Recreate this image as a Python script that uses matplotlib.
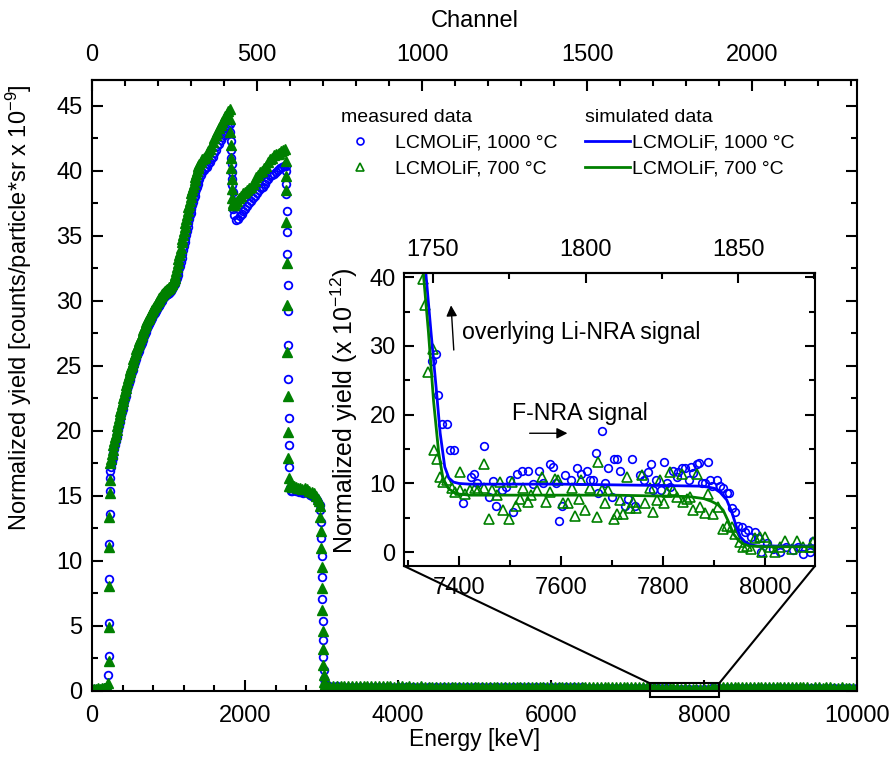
import numpy as np
import matplotlib
matplotlib.use("Agg")
import matplotlib.pyplot as plt
from matplotlib.lines import Line2D
from matplotlib.patches import Rectangle, ConnectionPatch
from matplotlib.ticker import MultipleLocator, FixedLocator

plt.rcParams['font.family'] = ['Liberation Sans', 'DejaVu Sans']
plt.rcParams['mathtext.fontset'] = 'custom'
plt.rcParams['mathtext.rm'] = 'Liberation Sans'
plt.rcParams['mathtext.default'] = 'regular'

BLUE = '#0000ff'
GREEN = '#008000'

# ---------------- main spectrum (x 10^-9), energies in keV ----------------
pre_E = [0, 25, 50, 75, 100, 125, 150, 175, 200]
pre_700 = [0.15, 0.18, 0.15, 0.2, 0.18, 0.2, 0.22, 0.25, 0.3]
pre_1000 = [0.12, 0.15, 0.14, 0.16, 0.15, 0.18, 0.2, 0.22, 0.28]

edge1_E_700 = [213, 216, 219, 222, 225, 228, 231, 234]
edge1_700 = [0.6, 2.3, 4.9, 8.1, 11.1, 13.4, 15.2, 16.2]
edge1_E_1000 = [214, 217, 220, 223, 226, 229, 232, 235]
edge1_1000 = [1.2, 2.7, 5.2, 8.6, 11.3, 13.6, 15.4, 16.4]

body1_E = np.arange(240, 1081, 10)
body1_700 = [17.5, 17.85, 18.2, 18.55, 18.9, 19.2, 19.5, 19.8, 20.1, 20.4,
             20.7, 21.0, 21.3, 21.55, 21.8, 22.05, 22.3, 22.55, 22.8, 23.05,
             23.3, 23.55, 23.8, 24.05, 24.3, 24.5, 24.7, 24.9, 25.1, 25.3,
             25.5, 25.7, 25.9, 26.1, 26.3, 26.45, 26.6, 26.75, 26.9, 27.05,
             27.2, 27.4, 27.6, 27.75, 27.9, 28.05, 28.2, 28.35, 28.5, 28.6,
             28.7, 28.8, 28.9, 29.05, 29.2, 29.3, 29.4, 29.5, 29.6, 29.7,
             29.8, 29.9, 30.0, 30.1, 30.2, 30.3, 30.4, 30.45, 30.5, 30.6,
             30.7, 30.75, 30.8, 30.85, 30.9, 30.95, 31.0, 31.05, 31.1, 31.2,
             31.3, 31.4, 31.5, 31.65, 31.8]
body1_1000 = [16.9, 17.25, 17.6, 17.95, 18.3, 18.6, 18.9, 19.2, 19.5, 19.8,
              20.1, 20.4, 20.7, 20.95, 21.2, 21.45, 21.7, 21.95, 22.2, 22.45,
              22.7, 22.95, 23.2, 23.45, 23.7, 23.9, 24.1, 24.3, 24.5, 24.7,
              24.9, 25.1, 25.3, 25.5, 25.7, 25.85, 26.0, 26.15, 26.3, 26.45,
              26.6, 26.8, 27.0, 27.15, 27.3, 27.45, 27.6, 27.75, 27.9, 28.05,
              28.2, 28.3, 28.4, 28.55, 28.7, 28.8, 28.9, 29.0, 29.1, 29.2,
              29.3, 29.4, 29.5, 29.6, 29.7, 29.8, 29.9, 30.0, 30.1, 30.2,
              30.3, 30.35, 30.4, 30.45, 30.5, 30.55, 30.6, 30.65, 30.7, 30.8,
              30.9, 31.0, 31.1, 31.2, 31.3]

steep_E = np.arange(1090, 1401, 10)
steep_700 = [32.0, 32.3, 32.6, 32.9, 33.2, 33.5, 33.8, 34.1, 34.5, 34.8,
             35.1, 35.4, 35.7, 36.0, 36.3, 36.6, 36.9, 37.2, 37.4, 37.7,
             38.0, 38.3, 38.5, 38.8, 39.0, 39.3, 39.5, 39.8, 40.0, 40.2,
             40.4, 40.5]
steep_1000 = [31.4, 31.6, 31.8, 32.0, 32.2, 32.5, 32.7, 33.0, 33.3, 33.6,
              33.9, 34.2, 34.5, 34.8, 35.1, 35.4, 35.7, 36.0, 36.3, 36.6,
              36.8, 37.1, 37.4, 37.6, 37.9, 38.1, 38.4, 38.6, 38.8, 39.0,
              39.2, 39.4]

body2_E = np.arange(1420, 1801, 20)
body2_700 = [40.7, 40.9, 41.0, 41.1, 41.3, 41.5, 41.7, 41.9, 42.2, 42.5,
             42.8, 43.0, 43.3, 43.5, 43.8, 44.0, 44.2, 44.4, 44.6, 44.8]
body2_1000 = [39.7, 39.9, 40.1, 40.2, 40.3, 40.5, 40.7, 40.9, 41.1, 41.4,
              41.6, 41.9, 42.1, 42.4, 42.6, 42.8, 43.0, 43.2, 43.4, 43.6]

drop_E_700 = [1805, 1809, 1813, 1817, 1821, 1825, 1829, 1833, 1837, 1843]
drop_700 = [44.0, 43.0, 42.0, 41.0, 40.2, 39.4, 38.6, 37.9, 37.5, 37.4]
drop_E_1000 = [1808, 1812, 1816, 1820, 1824, 1828, 1832, 1836, 1840, 1844, 1848]
drop_1000 = [43.0, 42.3, 41.6, 41.0, 40.5, 39.9, 39.4, 38.9, 38.4, 37.7, 37.1]

hump_E_700 = np.arange(1850, 2526, 25)
hump_700 = [37.4, 37.5, 37.7, 37.9, 38.1, 38.3, 38.4, 38.5, 38.7, 38.8,
            39.0, 39.2, 39.5, 39.7, 39.9, 40.0, 40.2, 40.4, 40.7, 40.9,
            41.0, 41.2, 41.3, 41.3, 41.4, 41.5, 41.6, 41.7]
hump_E_1000 = np.arange(1855, 2531, 25)
hump_1000 = [36.6, 36.2, 36.3, 36.5, 36.7, 36.9, 37.1, 37.3, 37.5, 37.7,
             37.9, 38.1, 38.3, 38.5, 38.7, 38.8, 39.0, 39.2, 39.4, 39.6,
             39.7, 39.8, 39.9, 40.1, 40.2, 40.3, 40.4, 40.4]

edge2_E_700 = np.arange(2530, 2575, 4)
edge2_700 = [40.8, 39.6, 38.5, 36.1, 32.9, 29.7, 26.1, 22.7, 19.9, 17.9, 16.4, 15.8]
edge2_E_1000 = np.arange(2532, 2585, 4)
edge2_1000 = [40.0, 39.0, 38.2, 36.9, 35.3, 33.6, 31.2, 29.2, 26.6, 24.0,
              21.0, 18.9, 17.2, 15.6]

plat_E_700 = [2585, 2610, 2635, 2660, 2690, 2720, 2750, 2780, 2810, 2840,
              2870, 2900, 2930, 2950, 2965]
plat_700 = [15.8, 15.7, 15.8, 15.7, 15.6, 15.6, 15.5, 15.6, 15.5, 15.4,
            15.3, 15.2, 15.0, 14.8, 14.6]
plat_E_1000 = [2595, 2620, 2645, 2670, 2700, 2730, 2760, 2790, 2820, 2850,
               2880, 2910, 2940, 2960, 2975]
plat_1000 = [15.4, 15.4, 15.5, 15.4, 15.3, 15.3, 15.2, 15.3, 15.2, 15.1,
             15.0, 14.9, 14.7, 14.5, 14.3]

edge3_E_700 = np.arange(2980, 3041, 5)
edge3_700 = [14.2, 13.4, 12.3, 11.0, 9.5, 7.9, 6.2, 4.6, 3.2, 2.0, 1.2, 0.7, 0.5]
edge3_E_1000 = np.arange(2985, 3046, 5)
edge3_1000 = [13.9, 13.0, 11.8, 10.4, 8.8, 7.1, 5.4, 3.9, 2.6, 1.6, 0.9, 0.6, 0.4]

tail_E_700 = np.arange(3050, 10001, 50)
tail_700 = [0.45, 0.42, 0.40, 0.38, 0.38, 0.37, 0.37, 0.36, 0.36, 0.36,
            0.36, 0.35, 0.36, 0.35, 0.35, 0.36, 0.35, 0.35, 0.34, 0.35,
            0.35, 0.34, 0.35, 0.34, 0.34, 0.35, 0.34, 0.34, 0.33, 0.34,
            0.34, 0.33, 0.34, 0.33, 0.33, 0.34, 0.33, 0.33, 0.32, 0.33,
            0.33, 0.32, 0.33, 0.32, 0.32, 0.33, 0.32, 0.32, 0.31, 0.32,
            0.32, 0.31, 0.32, 0.31, 0.31, 0.32, 0.31, 0.31, 0.30, 0.31,
            0.31, 0.30, 0.31, 0.30, 0.30, 0.31, 0.30, 0.30, 0.29, 0.30,
            0.29, 0.30, 0.29, 0.29, 0.30, 0.29, 0.29, 0.28, 0.29, 0.28,
            0.28, 0.29, 0.28, 0.28, 0.27, 0.28, 0.27, 0.26, 0.25, 0.23,
            0.21, 0.20, 0.20, 0.19, 0.20, 0.19, 0.19, 0.18, 0.19, 0.18,
            0.19, 0.22, 0.25, 0.27, 0.28, 0.28, 0.29, 0.28, 0.28, 0.29,
            0.28, 0.28, 0.29, 0.28, 0.28, 0.28, 0.27, 0.28, 0.28, 0.27,
            0.28, 0.27, 0.27, 0.28, 0.27, 0.27, 0.27, 0.26, 0.27, 0.27,
            0.26, 0.27, 0.27, 0.26, 0.26, 0.27, 0.26, 0.26, 0.26, 0.26]
tail_E_1000 = np.arange(3100, 10001, 100)
tail_1000 = [0.38, 0.35, 0.34, 0.34, 0.33, 0.33, 0.33, 0.32, 0.32, 0.32,
             0.32, 0.31, 0.31, 0.31, 0.31, 0.30, 0.30, 0.30, 0.30, 0.30,
             0.29, 0.29, 0.29, 0.29, 0.28, 0.28, 0.28, 0.28, 0.28, 0.27,
             0.27, 0.27, 0.27, 0.27, 0.26, 0.26, 0.26, 0.26, 0.25, 0.25,
             0.25, 0.24, 0.24, 0.22, 0.20, 0.19, 0.19, 0.18, 0.18, 0.18,
             0.20, 0.24, 0.25, 0.25, 0.25, 0.25, 0.25, 0.24, 0.24, 0.24,
             0.24, 0.24, 0.24, 0.24, 0.23, 0.23, 0.23, 0.23, 0.23, 0.23]

E_700 = np.concatenate([pre_E, edge1_E_700, body1_E, steep_E, body2_E, drop_E_700,
                        hump_E_700, edge2_E_700, plat_E_700, edge3_E_700, tail_E_700])
Y_700 = np.concatenate([pre_700, edge1_700, body1_700, steep_700, body2_700, drop_700,
                        hump_700, edge2_700, plat_700, edge3_700, tail_700])
E_1000 = np.concatenate([pre_E, edge1_E_1000, body1_E, steep_E, body2_E, drop_E_1000,
                         hump_E_1000, edge2_E_1000, plat_E_1000, edge3_E_1000, tail_E_1000])
Y_1000 = np.concatenate([pre_1000, edge1_1000, body1_1000, steep_1000, body2_1000, drop_1000,
                         hump_1000, edge2_1000, plat_1000, edge3_1000, tail_1000])

# ---------------- inset (x 10^-12) ----------------
ins_E_1000 = [7346, 7355, 7359, 7366, 7376, 7382, 7390, 7407, 7423, 7429,
              7436, 7448, 7459, 7466, 7472, 7484, 7493, 7500, 7505, 7513,
              7523, 7536, 7546, 7556, 7565, 7578, 7584, 7591, 7597, 7601,
              7608, 7619, 7632, 7640, 7650, 7656, 7663, 7668, 7673, 7680,
              7686, 7693, 7699, 7703, 7709, 7716, 7725, 7732, 7739, 7745,
              7755, 7763, 7771, 7776, 7781, 7786, 7797, 7801, 7807, 7814,
              7820, 7827, 7830, 7837, 7843, 7850, 7854, 7859, 7866, 7871,
              7876, 7882, 7888, 7892, 7897, 7905, 7912, 7918, 7925, 7929,
              7935, 7941, 7948, 7954, 7961, 7967, 7972, 7980, 7987, 7993,
              8003, 8016, 8029, 8042, 8055, 8065, 8075, 8088, 8095]
ins_Y_1000 = [27.8, 28.8, 22.8, 18.7, 18.7, 14.9, 14.9, 7.2, 11.0, 11.4,
              10.1, 15.4, 8.0, 10.3, 6.7, 9.0, 9.5, 10.5, 5.9, 11.4,
              11.8, 11.8, 9.9, 11.8, 10.0, 12.9, 12.4, 10.0, 4.6, 6.7,
              11.3, 10.5, 12.3, 11.4, 11.8, 10.5, 10.5, 14.5, 8.6, 17.7,
              10.1, 12.2, 8.0, 13.5, 13.5, 11.8, 6.7, 7.7, 13.5, 6.7,
              11.2, 10.5, 11.7, 12.9, 9.1, 10.5, 9.1, 13.1, 10.1, 9.5,
              11.8, 10.9, 11.7, 12.3, 12.2, 10.5, 12.4, 11.5, 12.8, 13.0,
              10.1, 10.1, 13.1, 10.5, 9.7, 10.5, 9.6, 9.4, 8.6, 8.6,
              6.4, 5.9, 3.8, 3.7, 3.0, 3.2, 2.2, 3.0, 2.0, 0.1,
              1.3, 0.5, 0.1, 0.8, 0.3, 0.8, -0.2, 0.1, 1.7]
ins_E_700 = [7329, 7333, 7340, 7348, 7350, 7357, 7363, 7369, 7376, 7386,
             7392, 7401, 7402, 7412, 7421, 7431, 7438, 7448, 7449, 7459,
             7464, 7474, 7480, 7487, 7497, 7503, 7512, 7519, 7526, 7536,
             7542, 7552, 7562, 7571, 7578, 7588, 7595, 7604, 7614, 7621,
             7627, 7636, 7640, 7647, 7657, 7670, 7673, 7680, 7686, 7693,
             7703, 7709, 7716, 7722, 7729, 7735, 7742, 7748, 7758, 7765,
             7774, 7781, 7788, 7794, 7801, 7807, 7814, 7820, 7827, 7837,
             7840, 7848, 7853, 7859, 7866, 7872, 7882, 7889, 7899, 7908,
             7918, 7925, 7935, 7941, 7950, 7957, 7965, 7972, 7980, 7990,
             7995, 8000, 8010, 8020, 8029, 8039, 8052, 8062, 8075, 8088, 8095]
ins_Y_700 = [39.8, 35.9, 26.2, 29.6, 14.8, 13.6, 11.0, 10.2, 10.5, 9.3,
             8.8, 11.7, 9.0, 8.5, 9.0, 9.4, 9.0, 12.8, 9.3, 4.9,
             9.0, 8.3, 10.2, 6.1, 4.9, 10.2, 6.7, 7.8, 9.4, 7.3,
             8.3, 9.1, 10.9, 7.3, 8.8, 10.7, 10.5, 7.1, 7.1, 9.4,
             5.2, 7.8, 10.5, 6.1, 9.4, 5.1, 13.1, 9.0, 7.1, 9.0,
             4.9, 5.6, 7.6, 5.6, 10.9, 6.4, 7.3, 6.4, 11.2, 7.1,
             9.3, 5.9, 7.6, 10.5, 7.1, 8.8, 11.7, 9.0, 8.0, 11.4,
             7.3, 7.8, 8.0, 6.1, 11.4, 6.6, 5.7, 8.5, 5.6, 6.6,
             3.4, 3.8, 3.7, 2.7, 1.5, 0.8, 0.9, 0.5, 2.0, 2.2,
             0.1, 2.2, 0.8, 0.1, 0.8, 1.7, 0.5, 1.7, 0.8, 0.8, 1.5]

sim_E_1000 = [7320, 7335, 7345, 7355, 7363, 7372, 7380, 7389, 7400, 7420,
              7500, 7600, 7700, 7800, 7880, 7900, 7912, 7925, 7935, 7944,
              7952, 7961, 7970, 7985, 8000, 8100]
sim_Y_1000 = [55, 40.5, 32, 24, 17.3, 12.4, 10.8, 10.2, 10.0, 9.9,
              9.9, 9.9, 9.8, 9.7, 9.6, 9.3, 8.7, 7.6, 5.8, 3.7,
              2.2, 1.5, 1.1, 0.9, 0.9, 0.9]
sim_E_700 = [7315, 7330, 7340, 7350, 7360, 7369, 7380, 7395, 7420, 7500,
             7700, 7850, 7880, 7895, 7908, 7918, 7928, 7938, 7948, 7957,
             7970, 8000, 8100]
sim_Y_700 = [55, 40.5, 32, 22, 14.5, 10.5, 9.2, 8.5, 8.3, 8.3,
             8.3, 8.1, 7.8, 7.4, 6.9, 6.1, 4.5, 2.7, 1.7, 1.2,
             0.9, 0.8, 0.8]

channel_ticks = [0, 500, 1000, 1500, 2000]
inset_channel_ticks = [1750, 1800, 1850]

# ---------------- figure ----------------
fig = plt.figure(figsize=(8.9, 7.59), dpi=100)
ax = fig.add_axes([0.1034, 0.0896, 0.8595, 0.805])

ax.plot(E_1000, Y_1000, ls='none', marker='o', ms=5.5, mfc='none', mec=BLUE, mew=1.3)
ax.plot(E_700, Y_700, ls='none', marker='^', ms=7, color=GREEN, mec=GREEN)

ax.set_xlim(0, 10000)
ax.set_ylim(0, 47)
ax.xaxis.set_major_locator(MultipleLocator(2000))
ax.xaxis.set_minor_locator(MultipleLocator(400))
ax.yaxis.set_major_locator(MultipleLocator(5))
ax.yaxis.set_minor_locator(MultipleLocator(2.5))
ax.tick_params(which='both', direction='in', top=False, right=True, width=1.5, labelsize=17)
ax.tick_params(which='major', length=8)
ax.tick_params(which='minor', length=4)
ax.tick_params(axis='x', pad=10)
ax.tick_params(axis='y', pad=7)
for s in ax.spines.values():
    s.set_linewidth(1.5)
ax.set_xlabel('Energy [keV]', fontsize=16.5, labelpad=1)
ax.set_ylabel('Normalized yield [counts/particle*sr x 10$^{-9}$]', fontsize=17)
ax.yaxis.set_label_coords(-0.076, 0.628)

top = ax.secondary_xaxis('top', functions=(lambda e: e * 0.2318, lambda c: c / 0.2318))
top.xaxis.set_major_locator(FixedLocator(channel_ticks))
top.xaxis.set_minor_locator(MultipleLocator(100))
top.tick_params(which='both', direction='in', width=1.5, labelsize=17, pad=10)
top.tick_params(which='major', length=8)
top.tick_params(which='minor', length=4)
top.spines['top'].set_linewidth(1.5)
top.set_xlabel('Channel', fontsize=17, labelpad=12)

# legends
m1 = Line2D([], [], ls='none', marker='o', ms=5, mfc='none', mec=BLUE, mew=1.2)
m2 = Line2D([], [], ls='none', marker='^', ms=5.5, mfc='none', mec=GREEN, mew=1.2)
leg1 = ax.legend([m1, m2], ['LCMOLiF, 1000 °C', 'LCMOLiF, 700 °C'], title='measured data',
                 loc='upper left', bbox_to_anchor=(341 / 890, 1 - 109 / 759),
                 bbox_transform=fig.transFigure, frameon=False, fontsize=14,
                 title_fontsize=14, alignment='left', borderpad=0, borderaxespad=0,
                 handlelength=2.0, handletextpad=0.8, labelspacing=0.42)
ax.add_artist(leg1)
l1 = Line2D([], [], color=BLUE, lw=2)
l2 = Line2D([], [], color=GREEN, lw=2)
ax.legend([l1, l2], ['LCMOLiF, 1000 °C', 'LCMOLiF, 700 °C'], title='simulated data',
          loc='upper left', bbox_to_anchor=(585 / 890, 1 - 109 / 759),
          bbox_transform=fig.transFigure, frameon=False, fontsize=14,
          title_fontsize=14, alignment='left', borderpad=0, borderaxespad=0,
          handlelength=2.3, handletextpad=0.1, labelspacing=0.42)

# zoom box on the main axes
ax.add_patch(Rectangle((7290, -0.45), 910, 1.05, fill=False, lw=1.5, ec='black',
                       clip_on=False, zorder=5))

# ---------------- inset ----------------
ins = fig.add_axes([0.4539, 0.2543, 0.4618, 0.386])
ins.plot(ins_E_1000, ins_Y_1000, ls='none', marker='o', ms=5.5, mfc='none', mec=BLUE, mew=1.2)
ins.plot(ins_E_700, ins_Y_700, ls='none', marker='^', ms=6.5, mfc='none', mec=GREEN, mew=1.2)
ins.plot(sim_E_1000, sim_Y_1000, color=BLUE, lw=2)
ins.plot(sim_E_700, sim_Y_700, color=GREEN, lw=2)
ins.set_xlim(7292, 8098)
ins.set_ylim(-2, 40.6)
ins.xaxis.set_major_locator(MultipleLocator(200))
ins.xaxis.set_minor_locator(MultipleLocator(100))
ins.yaxis.set_major_locator(MultipleLocator(10))
ins.yaxis.set_minor_locator(MultipleLocator(5))
ins.tick_params(which='both', direction='in', top=False, right=True, width=1.5, labelsize=17)
ins.tick_params(which='major', length=7)
ins.tick_params(which='minor', length=4)
ins.tick_params(axis='x', pad=8)
ins.tick_params(axis='y', pad=6)
for s in ins.spines.values():
    s.set_linewidth(1.5)
ins.set_ylabel('Normalized yield (x 10$^{-12}$)', fontsize=18)
ins.yaxis.set_label_coords(-0.108, 0.532)

itop = ins.secondary_xaxis('top', functions=(lambda e: 1740.5 + (e - 7292) * 0.16712,
                                             lambda c: 7292 + (c - 1740.5) / 0.16712))
itop.xaxis.set_major_locator(FixedLocator(inset_channel_ticks))
itop.xaxis.set_minor_locator(MultipleLocator(25))
itop.tick_params(which='both', direction='in', width=1.5, labelsize=17, pad=9)
itop.tick_params(which='major', length=7)
itop.tick_params(which='minor', length=4)
itop.spines['top'].set_linewidth(1.5)

ins.text(7406, 31.9, 'overlying Li-NRA signal', fontsize=16.7, ha='left', va='center')
ins.annotate('', xy=(7384, 36.3), xytext=(7390, 29.0),
             arrowprops=dict(arrowstyle='-|>', color='black', lw=1, mutation_scale=16))
ins.text(7504, 20.2, 'F-NRA signal', fontsize=16.7, ha='left', va='center')
ins.annotate('', xy=(7618, 17.3), xytext=(7533, 17.3),
             arrowprops=dict(arrowstyle='-|>', color='black', lw=1, mutation_scale=16))

# connector lines from the zoom box to the inset
for xe, xf in [(7290, 0.0), (8200, 1.0)]:
    con = ConnectionPatch(xyA=(xe, 0.6), coordsA=ax.transData, xyB=(xf, 0.0),
                          coordsB=ins.transAxes, color='black', lw=1.5)
    fig.add_artist(con)

fig.savefig('out.png', dpi=100)
